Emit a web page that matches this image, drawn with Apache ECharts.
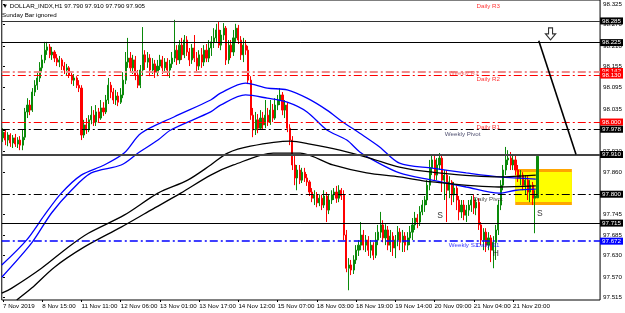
<!DOCTYPE html>
<html>
<head>
<meta charset="utf-8">
<title>DOLLAR_INDX,H1</title>
<script src="https://cdn.jsdelivr.net/npm/echarts@6/dist/echarts.min.js"></script>
<style>
    html, body { margin: 0; padding: 0; background: #fff; }
    #chart { width: 625px; height: 313px; }
</style>
</head>
<body>
<div id="chart"></div>
<script>
// hourly bars, [open, close, low, high]
const bars = [
    [97.956,97.972,97.945,97.983],[97.972,97.950,97.936,97.978],[97.950,97.964,97.933,97.972],[97.964,97.942,97.931,97.969],
    [97.942,97.956,97.928,97.964],[97.956,97.939,97.931,97.967],[97.939,97.950,97.928,97.958],[97.950,97.936,97.922,97.961],
    [97.936,97.958,97.922,97.978],[97.958,98.028,97.950,98.039],[98.028,98.047,98.011,98.066],[98.047,98.033,98.019,98.061],
    [98.033,98.083,98.028,98.094],[98.083,98.102,98.072,98.116],[98.102,98.122,98.089,98.138],[98.122,98.150,98.111,98.166],
    [98.150,98.172,98.138,98.186],[98.172,98.199,98.163,98.222],[98.199,98.208,98.186,98.222],[98.208,98.186,98.177,98.216],
    [98.186,98.194,98.172,98.208],[98.194,98.177,98.166,98.199],[98.177,98.166,98.155,98.188],[98.166,98.172,98.152,98.183],
    [98.172,98.155,98.144,98.177],[98.155,98.144,98.133,98.166],[98.144,98.150,98.130,98.161],[98.150,98.130,98.122,98.155],
    [98.130,98.116,98.105,98.138],[98.116,98.122,98.100,98.133],[98.122,98.102,98.094,98.127],[98.102,98.094,98.083,98.116],
    [98.094,97.964,97.950,98.102],[97.964,97.992,97.956,98.006],[97.992,97.978,97.967,98.011],[97.978,98.006,97.972,98.019],
    [98.006,98.019,97.994,98.044],[98.019,98.000,97.989,98.033],[98.000,98.028,97.989,98.047],[98.028,98.011,98.000,98.039],
    [98.011,98.039,98.006,98.061],[98.039,98.028,98.017,98.055],[98.028,98.061,98.022,98.075],[98.061,98.102,98.050,98.122],
    [98.102,98.083,98.066,98.111],[98.083,98.061,98.050,98.094],[98.061,98.072,98.047,98.089],[98.072,98.055,98.044,98.083],
    [98.055,98.075,98.050,98.094],[98.075,98.116,98.066,98.138],[98.116,98.166,98.105,98.194],[98.166,98.177,98.150,98.233],
    [98.177,98.150,98.138,98.194],[98.150,98.172,98.133,98.186],[98.172,98.130,98.116,98.183],[98.130,98.102,98.094,98.144],
    [98.102,98.144,98.094,98.158],[98.144,98.186,98.130,98.263],[98.186,98.166,98.144,98.199],[98.166,98.177,98.150,98.194],
    [98.177,98.144,98.127,98.188],[98.144,98.161,98.133,98.177],[98.161,98.138,98.122,98.172],[98.138,98.155,98.127,98.172],
    [98.155,98.172,98.144,98.186],[98.172,98.150,98.133,98.183],[98.150,98.166,98.138,98.177],[98.166,98.144,98.127,98.177],
    [98.144,98.161,98.122,98.172],[98.161,98.177,98.150,98.194],[98.177,98.199,98.166,98.283],[98.199,98.172,98.158,98.213],
    [98.172,98.213,98.161,98.227],[98.213,98.186,98.172,98.233],[98.186,98.227,98.177,98.241],[98.227,98.194,98.183,98.238],
    [98.194,98.172,98.155,98.205],[98.172,98.205,98.161,98.216],[98.205,98.177,98.166,98.241],[98.177,98.155,98.138,98.194],
    [98.155,98.186,98.144,98.199],[98.186,98.166,98.150,98.205],[98.166,98.199,98.155,98.213],[98.199,98.177,98.166,98.216],
    [98.177,98.205,98.166,98.227],[98.205,98.222,98.183,98.238],[98.222,98.233,98.205,98.260],[98.233,98.255,98.222,98.272],
    [98.255,98.213,98.205,98.277],[98.213,98.241,98.199,98.255],[98.241,98.260,98.227,98.274],[98.260,98.172,98.158,98.266],
    [98.172,98.213,98.161,98.227],[98.213,98.194,98.177,98.227],[98.194,98.233,98.183,98.255],[98.233,98.260,98.222,98.272],
    [98.260,98.227,98.216,98.269],[98.227,98.186,98.172,98.238],[98.186,98.213,98.166,98.233],[98.213,98.199,98.186,98.227],
    [98.199,98.116,98.105,98.211],[98.116,98.019,98.006,98.127],[98.019,97.978,97.958,98.039],[97.978,98.006,97.964,98.028],
    [98.006,97.983,97.969,98.022],[97.983,98.011,97.978,98.033],[98.011,97.992,97.978,98.028],[97.992,98.019,97.983,98.061],
    [98.019,98.000,97.989,98.039],[98.000,98.033,97.992,98.061],[98.033,98.011,98.000,98.050],[98.011,98.047,98.006,98.066],
    [98.047,98.061,98.033,98.075],[98.061,98.075,98.047,98.094],[98.075,98.033,98.019,98.083],[98.033,98.047,98.011,98.061],
    [98.047,97.983,97.972,98.055],[97.983,97.950,97.936,97.994],[97.950,97.881,97.867,97.961],[97.881,97.845,97.825,97.908],
    [97.845,97.867,97.811,97.881],[97.867,97.839,97.828,97.881],[97.839,97.861,97.831,97.873],[97.861,97.845,97.834,97.873],
    [97.845,97.834,97.823,97.856],[97.834,97.806,97.795,97.839],[97.806,97.789,97.778,97.817],[97.789,97.798,97.770,97.811],
    [97.798,97.776,97.764,97.806],[97.776,97.789,97.767,97.800],[97.789,97.770,97.756,97.798],[97.770,97.795,97.762,97.811],
    [97.795,97.756,97.723,97.806],[97.756,97.784,97.745,97.798],[97.784,97.798,97.773,97.811],[97.798,97.806,97.784,97.817],
    [97.806,97.789,97.776,97.823],[97.789,97.811,97.778,97.825],[97.811,97.795,97.784,97.817],[97.798,97.687,97.673,97.811],
    [97.687,97.595,97.584,97.701],[97.595,97.604,97.534,97.623],[97.604,97.590,97.576,97.618],[97.590,97.618,97.579,97.631],
    [97.618,97.645,97.607,97.659],[97.645,97.659,97.629,97.673],[97.659,97.687,97.645,97.723],[97.687,97.659,97.645,97.701],
    [97.659,97.673,97.640,97.687],[97.673,97.645,97.629,97.684],[97.645,97.659,97.623,97.673],[97.659,97.631,97.618,97.667],
    [97.631,97.673,97.623,97.695],[97.673,97.695,97.659,97.715],[97.695,97.715,97.679,97.751],[97.715,97.679,97.667,97.728],
    [97.679,97.701,97.659,97.717],[97.701,97.659,97.645,97.712],[97.659,97.684,97.640,97.701],[97.684,97.651,97.629,97.695],
    [97.651,97.673,97.623,97.687],[97.673,97.695,97.656,97.712],[97.695,97.667,97.645,97.706],[97.667,97.684,97.640,97.701],
    [97.684,97.659,97.640,97.695],[97.659,97.679,97.645,97.695],[97.679,97.695,97.659,97.712],[97.695,97.715,97.673,97.734],
    [97.715,97.734,97.701,97.751],[97.734,97.723,97.706,97.745],[97.723,97.751,97.712,97.767],[97.751,97.770,97.742,97.784],
    [97.770,97.784,97.751,97.795],[97.784,97.825,97.770,97.839],[97.825,97.873,97.811,97.895],[97.873,97.895,97.853,97.908],
    [97.895,97.853,97.839,97.906],[97.853,97.881,97.839,97.900],[97.881,97.900,97.867,97.914],[97.900,97.839,97.806,97.908],
    [97.839,97.853,97.784,97.867],[97.853,97.811,97.723,97.867],[97.811,97.834,97.789,97.850],[97.834,97.798,97.770,97.839],
    [97.798,97.817,97.778,97.834],[97.817,97.784,97.756,97.825],[97.784,97.751,97.728,97.795],[97.751,97.770,97.734,97.784],
    [97.770,97.742,97.728,97.784],[97.742,97.756,97.723,97.770],[97.756,97.770,97.740,97.784],[97.770,97.784,97.751,97.795],
    [97.784,97.762,97.745,97.798],[97.762,97.778,97.742,97.789],[97.778,97.715,97.701,97.789],[97.715,97.673,97.659,97.723],
    [97.673,97.695,97.645,97.706],[97.695,97.659,97.640,97.706],[97.659,97.679,97.645,97.695],[97.679,97.645,97.612,97.687],
    [97.645,97.667,97.595,97.684],[97.667,97.701,97.618,97.715],[97.701,97.770,97.687,97.784],[97.770,97.825,97.756,97.839],
    [97.825,97.867,97.811,97.881],[97.867,97.895,97.853,97.931],[97.895,97.900,97.881,97.922],[97.900,97.881,97.867,97.917],
    [97.881,97.895,97.867,97.908],[97.895,97.867,97.853,97.906],[97.867,97.845,97.834,97.881],[97.845,97.853,97.825,97.867],
    [97.853,97.825,97.811,97.861],[97.825,97.839,97.798,97.853],[97.839,97.806,97.784,97.850],[97.806,97.825,97.778,97.839],
    [97.825,97.789,97.770,97.834],[97.789,97.795,97.692,97.811],[97.790,97.905,97.790,97.910]
];

// time labels: [bar index, text]
const timeTicks = [
    [0, '7 Nov 2019'], [16, '8 Nov 15:00'], [32, '11 Nov 11:00'], [48, '12 Nov 06:00'],
    [64, '13 Nov 01:00'], [80, '13 Nov 17:00'], [96, '14 Nov 12:00'], [112, '15 Nov 07:00'],
    [128, '18 Nov 03:00'], [144, '18 Nov 19:00'], [160, '19 Nov 14:00'], [176, '20 Nov 09:00'],
    [192, '21 Nov 04:00'], [208, '21 Nov 20:00']
];
const priceTicks = [98.325, 98.270, 98.210, 98.155, 98.095, 98.035, 97.978, 97.920,
    97.860, 97.800, 97.745, 97.685, 97.630, 97.570, 97.515];

// moving averages read at sample bars: [bar index, price]
const blueFast = [[-0.5,97.604],[9.6,97.673],[16.9,97.742],[23.8,97.803],[31.9,97.853],[41.3,97.881],
    [49.4,97.914],[56.3,97.969],[69.7,98.014],[84.7,98.061],[88.7,98.080],[98.9,98.108],[107.8,98.094],
    [115.9,98.089],[124,98.066],[132.1,98.033],[138.6,98.000],[145.5,97.969],[153.6,97.931],[161.7,97.886],
    [175.1,97.872],[188.9,97.859],[202.3,97.848],[217.3,97.842]];
const blueSlow = [[-0.5,97.570],[11.7,97.665],[19.8,97.748],[27.9,97.811],[36,97.859],[48.2,97.881],
    [55.1,97.914],[63.2,97.950],[68.4,97.978],[84.7,98.028],[88.7,98.047],[98.9,98.075],[107.8,98.066],
    [115.9,98.055],[124,98.028],[132.1,97.978],[140.2,97.950],[145.5,97.917],[150.8,97.895],[161.7,97.859],
    [175.1,97.839],[188.9,97.820],[202.3,97.803],[209.2,97.811],[217.3,97.814]];
const blackFast = [[-0.5,97.526],[3.6,97.540],[15.7,97.595],[26.7,97.654],[34.8,97.692],[49.4,97.742],
    [63.2,97.803],[75.3,97.839],[84.7,97.881],[91.6,97.914],[100.9,97.933],[117.1,97.947],[125.2,97.939],
    [137.4,97.922],[149.5,97.900],[161.7,97.875],[175.1,97.861],[202.3,97.848],[217.3,97.853]];
const blackSlow = [[5.6,97.507],[11.7,97.540],[21,97.598],[33.2,97.654],[48.2,97.709],[60.3,97.756],
    [72.5,97.803],[84.7,97.853],[94,97.881],[110.2,97.914],[121.2,97.914],[134.5,97.881],[148.3,97.859],
    [161.7,97.848],[175.1,97.834],[202.3,97.820],[217.3,97.823]];

// horizontal levels
const levelPrices = [98.285, 98.225, 98.142, 98.130, 98.000, 97.978, 97.910, 97.800, 97.715, 97.672];
const levelTexts = ['98.285', '98.225', '98.142', '98.130', '98.000', '97.978', '97.910', '97.800', '97.715', '97.672'];

const trendLine = [[218.5, 98.225], [233.7, 97.910]];
const boxZone = [[208.9, 97.870], [232, 97.770]];
const pivotNames = [
    ['Daily R3', 192.9, 98.321], ['Weekly R1', 181.6, 98.136], ['Daily R2', 192.9, 98.118],
    ['Daily R1', 192.9, 97.986], ['Weekly Pivot', 180, 97.967], ['Daily Pivot', 191.7, 97.787],
    ['Weekly S1', 181.6, 97.659], ['Daily S1', 192.9, 97.659]
];
const patternMarks = [['S', 178.3, 97.742], ['H', 201, 97.634], ['S', 218.9, 97.745]];
const arrowAt = [223.3, 98.244];

const slotCount = 244;
const font = "'Liberation Sans', Arial, sans-serif";
const fs = 6.2;

const tickMap = new Map(timeTicks);
const slots = Array.from({ length: slotCount }, (_, i) => String(i));

// look of each level line, same order as levelPrices
const dashDot = [8, 3, 2, 3];
const levelLook = [
    { color: '#333', width: 1, type: 'solid', box: '#000' },
    { color: '#000', width: 1, type: 'solid', box: '#000' },
    { color: '#F08A8A', width: 2, type: dashDot, box: '#FF0000' },
    { color: '#FF0000', width: 1, type: dashDot, box: '#FF0000' },
    { color: '#FF0000', width: 1, type: dashDot, box: '#FF0000' },
    { color: '#000', width: 1, type: dashDot, box: '#000' },
    { color: '#444', width: 2, type: 'solid', box: '#000' },
    { color: '#000', width: 1, type: dashDot, box: '#000' },
    { color: '#000', width: 1, type: 'solid', box: '#000' },
    { color: '#0000FF', width: 1.5, type: dashDot, box: '#0000FF' }
];
const nameColors = {
    'Daily R3': '#FF0000', 'Weekly R1': '#F05050', 'Daily R2': '#FF0000', 'Daily R1': '#FF0000',
    'Weekly Pivot': '#20204A', 'Daily Pivot': '#222', 'Weekly S1': '#0000FF', 'Daily S1': '#0000FF'
};
// orange band thickness of the zone, in price units (about 3px)
const band = 0.0085;

let myChart = echarts.init(document.getElementById('chart'));

let option = {
    animation: false,
    backgroundColor: '#fff',
    title: {
        text: '\u25BC DOLLAR_INDX,H1 97.790 97.910 97.790 97.905',
        subtext: 'Sunday Bar ignored',
        left: 2,
        top: 3,
        padding: 0,
        itemGap: 3,
        textStyle: { fontSize: fs, fontWeight: 'normal', color: '#000', fontFamily: font },
        subtextStyle: { fontSize: fs, color: '#000', fontFamily: font }
    },
    grid: {
        left: 0, top: 0, right: 23, bottom: 13,
        show: true, borderColor: '#000', borderWidth: 1, backgroundColor: '#fff'
    },
    xAxis: [
        {
            type: 'category',
            data: slots,
            boundaryGap: true,
            axisLine: { show: false },
            axisTick: {
                show: true,
                interval: (i) => tickMap.has(i),
                alignWithLabel: true,
                length: 2,
                lineStyle: { color: '#000' }
            },
            axisLabel: {
                interval: (i) => tickMap.has(i),
                formatter: (v, i) => tickMap.get(i) || '',
                align: 'left',
                margin: 3,
                fontSize: fs,
                color: '#000',
                fontFamily: font
            },
            splitLine: { show: false }
        },
        { type: 'value', min: -0.5, max: slotCount - 0.5, show: false }
    ],
    yAxis: {
        type: 'value',
        position: 'right',
        min: 97.507,
        max: 98.338,
        splitLine: { show: false },
        axisLine: { show: false },
        axisTick: { show: true, customValues: priceTicks, length: 2, lineStyle: { color: '#000' } },
        axisLabel: {
            customValues: priceTicks,
            formatter: (v) => v.toFixed(3),
            margin: 3,
            fontSize: fs,
            color: '#000',
            fontFamily: font
        }
    },
    series: [
        {
            // yellow zone with orange top and bottom bands
            type: 'line', xAxisIndex: 1, data: [], z: 1, silent: true,
            markArea: {
                silent: true,
                data: [
                    [
                        { xAxis: boxZone[0][0], yAxis: boxZone[0][1], itemStyle: { color: '#FFA500' } },
                        { xAxis: boxZone[1][0], yAxis: boxZone[1][1] }
                    ],
                    [
                        { xAxis: boxZone[0][0], yAxis: boxZone[0][1] - band, itemStyle: { color: '#FFFF00' } },
                        { xAxis: boxZone[1][0], yAxis: boxZone[1][1] + band }
                    ]
                ]
            }
        },
        {
            // level lines with price boxes
            type: 'line', xAxisIndex: 1, data: [], z: 2, silent: true,
            markLine: {
                silent: true,
                symbol: 'none',
                data: levelPrices.map((p, k) => ({
                    yAxis: p,
                    lineStyle: { color: levelLook[k].color, width: levelLook[k].width, type: levelLook[k].type },
                    label: {
                        show: true,
                        position: 'end',
                        distance: 0,
                        formatter: levelTexts[k],
                        color: '#fff',
                        backgroundColor: levelLook[k].box,
                        padding: [1, 2, 0, 2],
                        fontSize: fs,
                        lineHeight: 6,
                        fontFamily: font
                    }
                }))
            }
        },
        {
            type: 'candlestick',
            xAxisIndex: 0,
            data: bars,
            barWidth: 1.6,
            z: 3,
            itemStyle: {
                color: '#0A8A0A',
                color0: '#FF0000',
                borderColor: '#0A8A0A',
                borderColor0: '#FF0000',
                borderWidth: 1
            }
        },
        {
            type: 'line', xAxisIndex: 1, data: blueFast, smooth: 0.3, showSymbol: false, z: 4,
            lineStyle: { color: '#0000FF', width: 1.3 }
        },
        {
            type: 'line', xAxisIndex: 1, data: blueSlow, smooth: 0.3, showSymbol: false, z: 4,
            lineStyle: { color: '#0000FF', width: 1.3 }
        },
        {
            type: 'line', xAxisIndex: 1, data: blackFast, smooth: 0.3, showSymbol: false, z: 4,
            lineStyle: { color: '#000', width: 1.3 }
        },
        {
            type: 'line', xAxisIndex: 1, data: blackSlow, smooth: 0.3, showSymbol: false, z: 4,
            lineStyle: { color: '#000', width: 1.3 }
        },
        {
            type: 'line', xAxisIndex: 1, data: trendLine, showSymbol: false, z: 5,
            lineStyle: { color: '#000', width: 1.6 }
        },
        {
            // pivot names
            type: 'scatter', xAxisIndex: 1, symbolSize: 1, z: 6, silent: true,
            itemStyle: { color: 'rgba(0,0,0,0)' },
            data: pivotNames.map(([t, x, p]) => ({
                name: t,
                value: [x, p],
                label: { color: nameColors[t] }
            })),
            label: { show: true, position: 'right', distance: 0, formatter: '{b}', fontSize: fs, fontFamily: font }
        },
        {
            // pattern letters
            type: 'scatter', xAxisIndex: 1, symbolSize: 1, z: 6, silent: true,
            itemStyle: { color: 'rgba(0,0,0,0)' },
            data: patternMarks.map(([t, x, p]) => ({ name: t, value: [x, p] })),
            label: { show: true, position: 'inside', formatter: '{b}', fontSize: 8.5, color: '#000', fontFamily: font }
        },
        {
            // hollow down arrow
            type: 'scatter', xAxisIndex: 1, z: 6, silent: true,
            symbol: 'path://M3,0 L7,0 L7,6 L10,6 L5,12 L0,6 L3,6 Z',
            symbolSize: [10, 12],
            itemStyle: { color: '#fff', borderColor: '#000', borderWidth: 1.2 },
            data: [arrowAt]
        }
    ]
};

myChart.setOption(option);
</script>
</body>
</html>
